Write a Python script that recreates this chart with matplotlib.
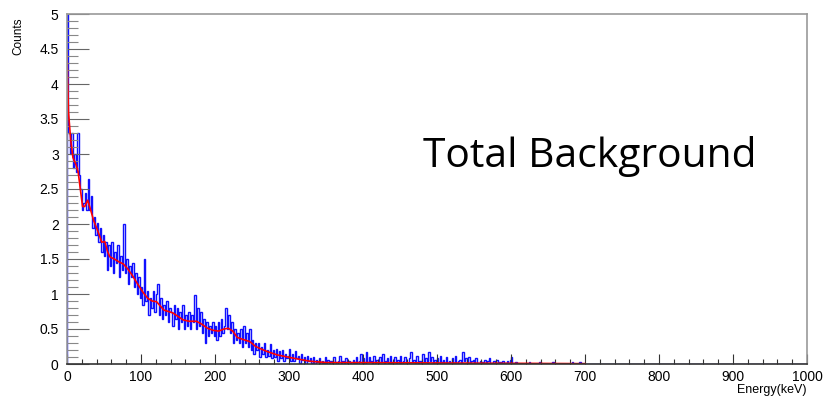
import matplotlib
matplotlib.use("Agg")
import matplotlib.pyplot as plt
import numpy as np
from matplotlib.ticker import MultipleLocator, FormatStrFormatter

# Histogram: 2 keV bins, counts per 100 keV block
bin_width = 2
counts_0_100 = [5.0, 3.3, 3.0, 3.3, 2.8, 3.0, 2.75, 3.3, 2.7, 2.5,
                2.2, 2.3, 2.45, 2.2, 2.65, 2.2, 2.4, 1.95, 2.1, 1.85,
                2.02, 1.75, 1.95, 1.6, 1.85, 1.55, 1.75, 1.35, 1.7, 1.4,
                1.75, 1.3, 1.6, 1.45, 1.7, 1.25, 1.55, 1.35, 2.0, 1.3,
                1.5, 1.15, 1.4, 1.25, 1.45, 1.1, 1.3, 1.0, 1.25, 0.95]
counts_100_200 = [1.1, 0.85, 1.5, 0.9, 1.05, 0.7, 0.95, 0.8, 1.05, 0.75,
                  1.0, 1.15, 0.7, 0.95, 0.65, 0.85, 0.7, 0.9, 0.6, 0.8,
                  0.75, 0.55, 0.85, 0.65, 0.8, 0.5, 0.75, 0.6, 0.85, 0.5,
                  0.7, 0.55, 0.75, 0.5, 0.7, 0.6, 0.98, 0.5, 0.8, 0.55,
                  0.75, 0.45, 0.65, 0.3, 0.6, 0.4, 0.55, 0.45, 0.6, 0.4]
counts_200_300 = [0.55, 0.35, 0.6, 0.4, 0.65, 0.45, 0.55, 0.8, 0.5, 0.7,
                  0.45, 0.6, 0.3, 0.5, 0.35, 0.45, 0.3, 0.5, 0.25, 0.55,
                  0.3, 0.45, 0.25, 0.5, 0.2, 0.35, 0.15, 0.3, 0.2, 0.3,
                  0.1, 0.25, 0.15, 0.3, 0.1, 0.2, 0.12, 0.28, 0.08, 0.2,
                  0.1, 0.22, 0.05, 0.18, 0.08, 0.2, 0.05, 0.15, 0.08, 0.12]
counts_300_400 = [0.22, 0.05, 0.15, 0.04, 0.18, 0.08, 0.12, 0.02, 0.15, 0.06,
                  0.1, 0.0, 0.12, 0.05, 0.08, 0.02, 0.1, 0.0, 0.06, 0.03,
                  0.08, 0.0, 0.05, 0.02, 0.1, 0.0, 0.06, 0.02, 0.04, 0.0,
                  0.1, 0.03, 0.0, 0.05, 0.12, 0.0, 0.04, 0.02, 0.08, 0.0,
                  0.05, 0.02, 0.0, 0.06, 0.02, 0.1, 0.0, 0.04, 0.15, 0.02]
counts_400_500 = [0.08, 0.0, 0.17, 0.03, 0.1, 0.05, 0.0, 0.12, 0.02, 0.06,
                  0.0, 0.1, 0.03, 0.14, 0.0, 0.05, 0.08, 0.02, 0.12, 0.0,
                  0.04, 0.1, 0.0, 0.06, 0.02, 0.12, 0.0, 0.05, 0.1, 0.02,
                  0.0, 0.08, 0.17, 0.03, 0.06, 0.0, 0.12, 0.02, 0.05, 0.0,
                  0.14, 0.03, 0.08, 0.0, 0.17, 0.04, 0.1, 0.0, 0.06, 0.02]
counts_500_600 = [0.08, 0.0, 0.12, 0.03, 0.06, 0.0, 0.1, 0.02, 0.05, 0.0,
                  0.08, 0.02, 0.12, 0.0, 0.04, 0.06, 0.0, 0.17, 0.05, 0.08,
                  0.02, 0.1, 0.0, 0.04, 0.06, 0.0, 0.08, 0.02, 0.0, 0.05,
                  0.03, 0.0, 0.06, 0.0, 0.04, 0.08, 0.0, 0.02, 0.05, 0.0,
                  0.06, 0.0, 0.03, 0.0, 0.05, 0.0, 0.02, 0.04, 0.0, 0.06]
counts_600_700 = [0.1, 0.0, 0.0, 0.03, 0.0, 0.0, 0.0, 0.0, 0.0, 0.0,
                  0.0, 0.0, 0.03, 0.0, 0.0, 0.0, 0.0, 0.0, 0.0, 0.03,
                  0.0, 0.0, 0.0, 0.0, 0.0, 0.0, 0.0, 0.0, 0.03, 0.0,
                  0.0, 0.0, 0.0, 0.0, 0.0, 0.0, 0.0, 0.0, 0.0, 0.0,
                  0.0, 0.03, 0.0, 0.0, 0.0, 0.0, 0.03, 0.0, 0.0, 0.0]
counts_700_1000 = [0.0] * 150

# Fit curve (keV, counts)
fit_energy = [0, 2, 5, 8, 12, 15, 18, 21, 24, 28, 32, 36, 42, 47, 51, 55, 58, 64, 70, 76, 82, 88, 95,
              103, 109, 115, 121, 126, 131, 143, 150, 157, 165, 175, 182, 190, 198, 205, 212, 218,
              224, 230, 238, 247, 255, 261, 270, 284, 305, 328, 351, 400, 500, 600, 700]
fit_counts = [4.45, 3.6, 3.2, 2.95, 2.85, 2.75, 2.5, 2.25, 2.25, 2.34, 2.2, 2.05, 1.89, 1.74, 1.75,
              1.6, 1.53, 1.5, 1.46, 1.43, 1.36, 1.27, 1.15, 1.02, 0.94, 0.9, 0.89, 0.83, 0.77, 0.73,
              0.68, 0.63, 0.61, 0.61, 0.57, 0.51, 0.48, 0.47, 0.5, 0.51, 0.47, 0.38, 0.35, 0.32, 0.25,
              0.22, 0.18, 0.13, 0.085, 0.04, 0.02, 0.02, 0.015, 0.01, 0.005]

counts = (counts_0_100 + counts_100_200 + counts_200_300 + counts_300_400
          + counts_400_500 + counts_500_600 + counts_600_700 + counts_700_1000)
edges = np.arange(0, bin_width * len(counts) + 1, bin_width)

plt.rcParams["font.family"] = ["Liberation Sans", "DejaVu Sans"]

fig = plt.figure(figsize=(8.28, 3.98), dpi=100)
ax = fig.add_axes([67 / 828, 1 - 364 / 398, 740 / 828, 350 / 398])

ax.stairs(counts, edges, color="#1010ff", linewidth=1.0)
ax.plot(fit_energy, fit_counts, color="#ff0000", linewidth=1.2)

ax.set_xlim(0, 1000)
ax.set_ylim(0, 5)

ax.xaxis.set_major_locator(MultipleLocator(100))
ax.xaxis.set_minor_locator(MultipleLocator(20))
ax.yaxis.set_major_locator(MultipleLocator(0.5))
ax.yaxis.set_minor_locator(MultipleLocator(0.1))
ax.yaxis.set_major_formatter(FormatStrFormatter("%g"))

ax.tick_params(axis="x", which="major", direction="in", length=7, width=0.8, color="#333333",
               labelsize=10, pad=4)
ax.tick_params(axis="x", which="minor", direction="in", length=3.6, width=0.8, color="#333333")
ax.tick_params(axis="y", which="major", direction="in", length=15.8, width=0.8, color="#666666",
               labelsize=10, pad=6)
ax.tick_params(axis="y", which="minor", direction="in", length=7.9, width=0.8, color="#888888")

for side in ["left", "top", "right"]:
    ax.spines[side].set_color("#999999")
    ax.spines[side].set_linewidth(1.2)
ax.spines["bottom"].set_color("#333333")
ax.spines["bottom"].set_linewidth(1.2)

fig.text(0.022, 0.955, "Counts", rotation=90, ha="center", va="top", fontsize=8.5)
fig.text(807 / 828, 1 - 390 / 398, "Energy(keV)", ha="right", va="center", fontsize=9)
fig.text(423 / 828, 1 - 167 / 398, "Total Background", ha="left", va="baseline",
         fontsize=29.3, family=["Open Sans", "DejaVu Sans"])

fig.savefig("out.png", dpi=100)
